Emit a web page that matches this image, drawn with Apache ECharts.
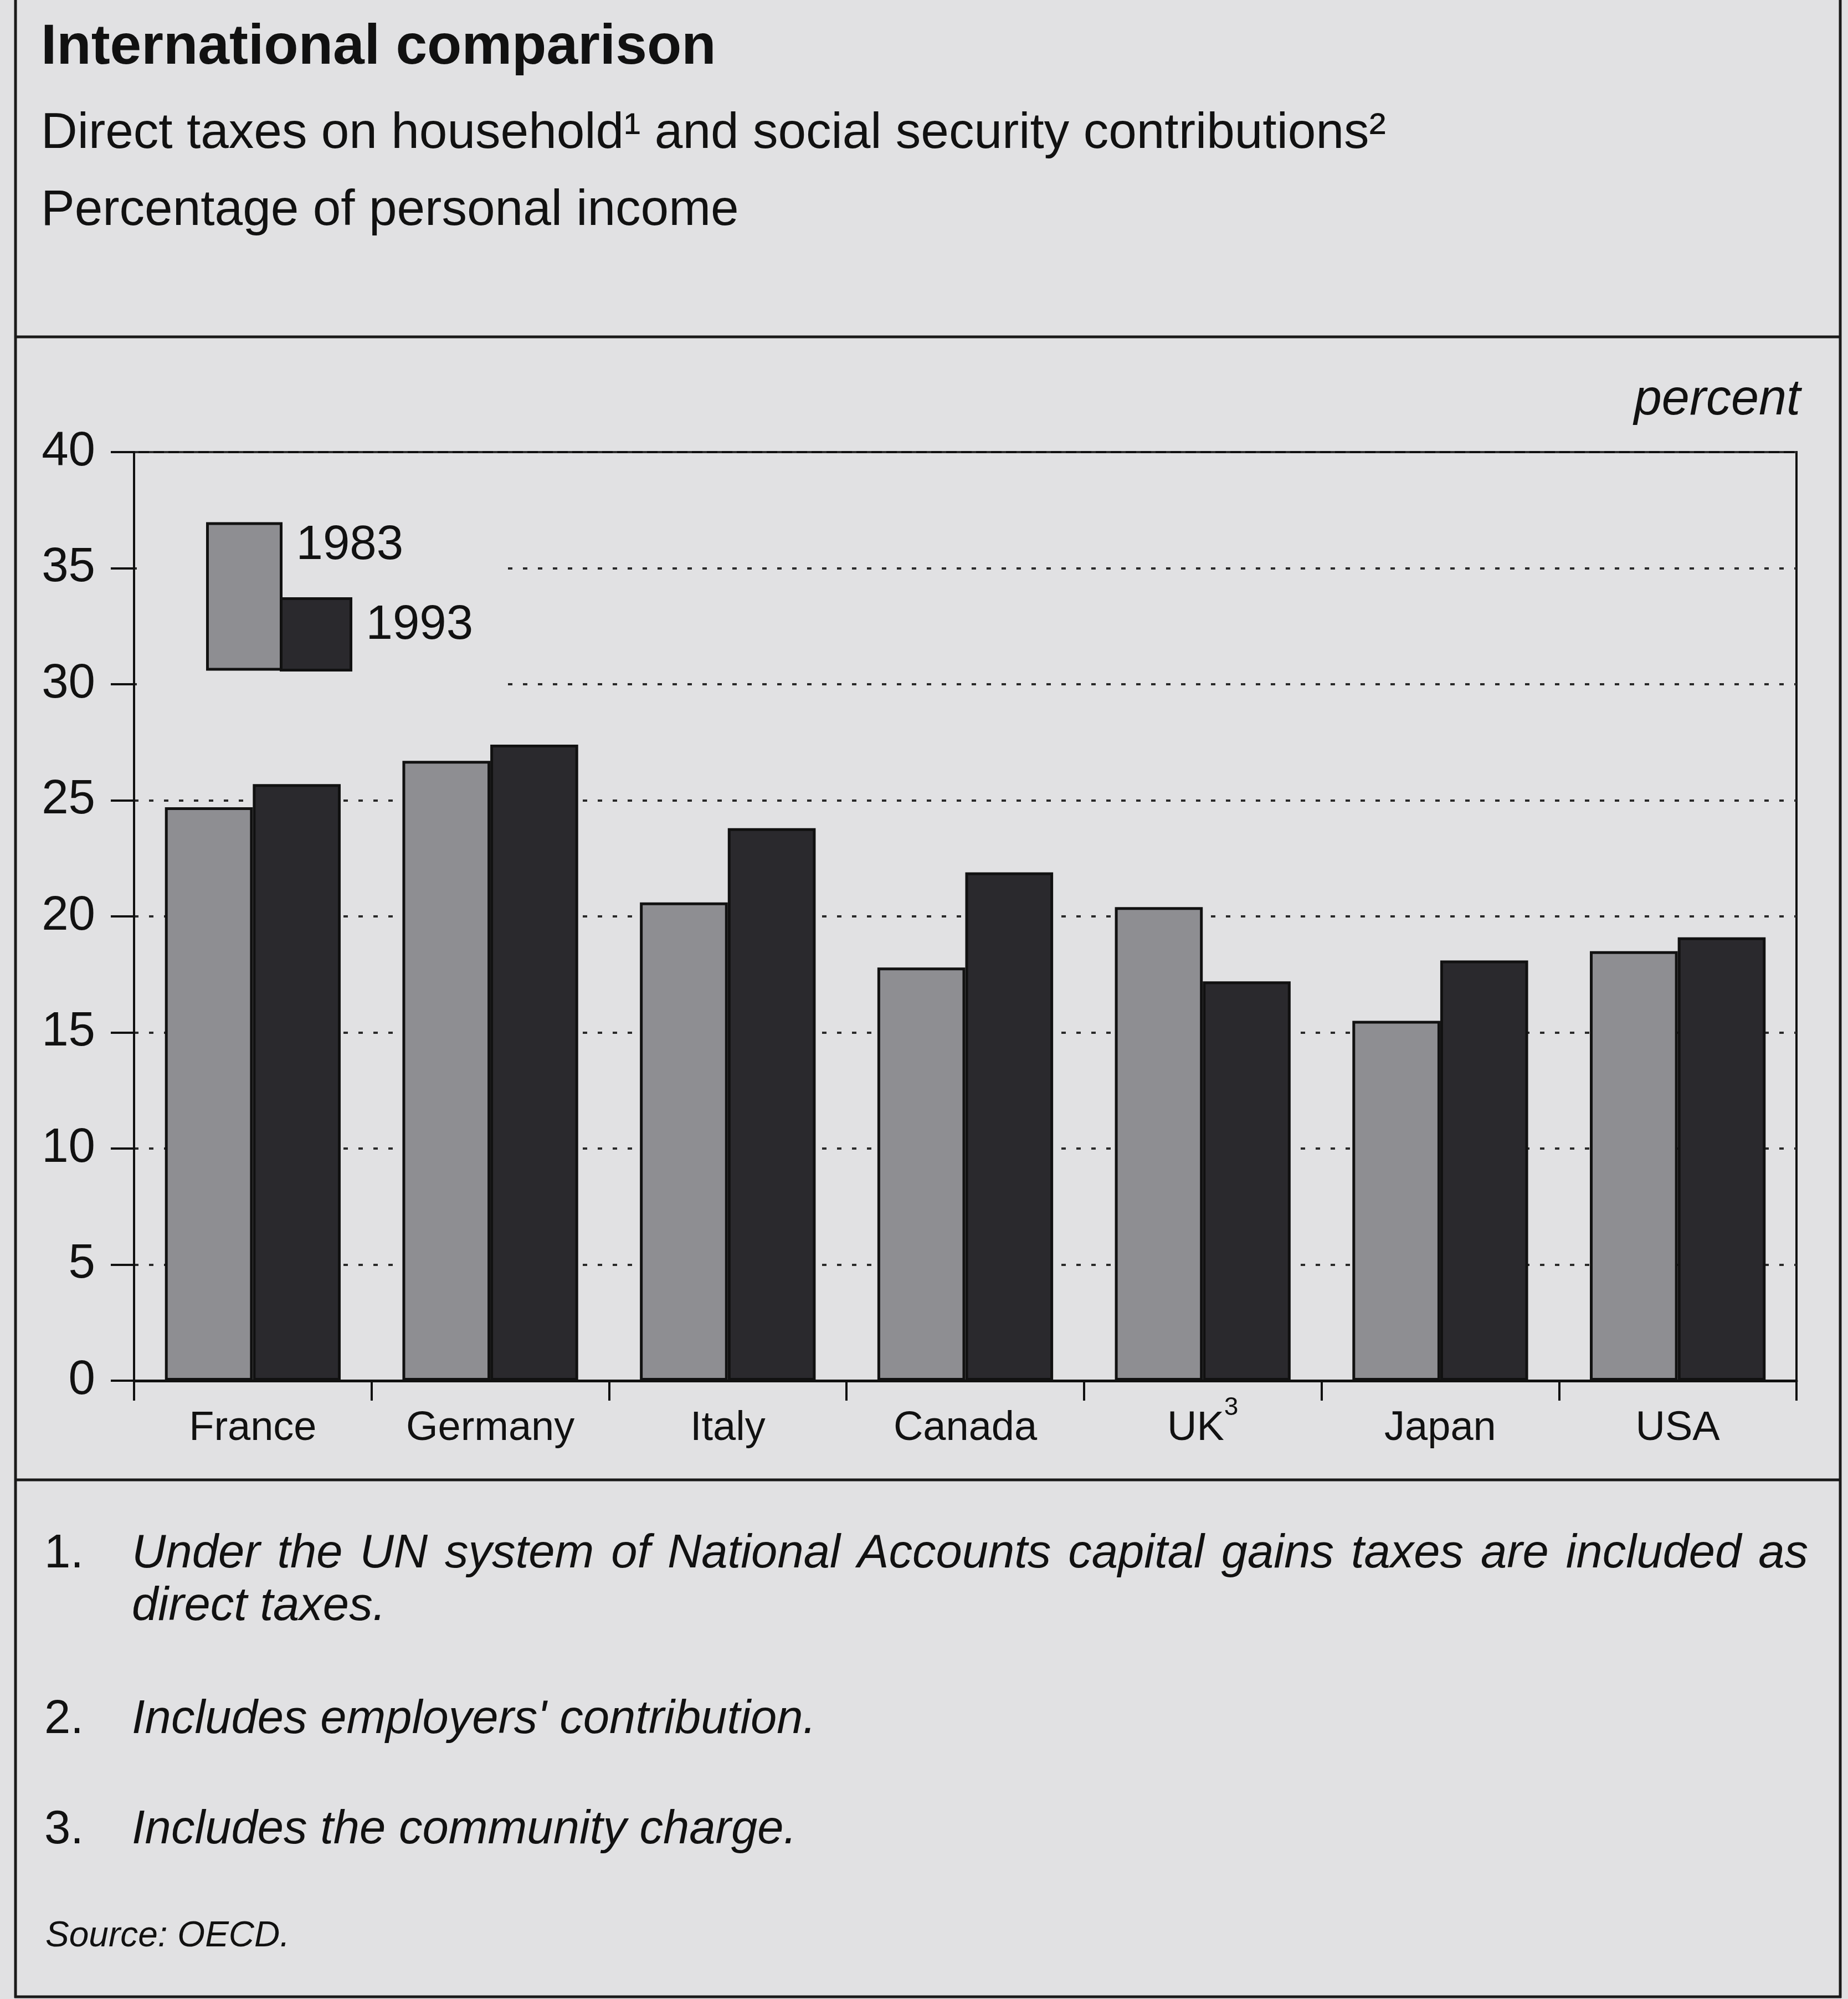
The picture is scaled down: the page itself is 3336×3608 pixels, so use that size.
<!DOCTYPE html>
<html>
<head>
<meta charset="utf-8">
<title>International comparison</title>
<script src="https://cdn.jsdelivr.net/npm/echarts@6/dist/echarts.min.js"></script>
<style>
  html, body { margin: 0; padding: 0; background: #e1e1e3; }
  #chart { width: 3336px; height: 3608px; }
</style>
</head>
<body>
<div id="chart"></div>
<script>
// Direct taxes on households and social security contributions, % of personal income
const countries = ['France', 'Germany', 'Italy', 'Canada', 'UK', 'Japan', 'USA'];
const values1983 = [24.7, 26.7, 20.6, 17.8, 20.4, 15.5, 18.5];
const values1993 = [25.7, 27.4, 23.8, 21.9, 17.2, 18.1, 19.1];
const seriesNames = ['1983', '1993'];
const countryNotes = { UK: '3' };
const yTicks = { min: 0, max: 40, step: 5 };

const titleText = 'International comparison';
const subtitleText = 'Direct taxes on household\u00B9 and social security contributions\u00B2';
const unitsText = 'Percentage of personal income';
const axisUnit = 'percent';
const footnote1 = ['Under the UN system of National Accounts capital gains taxes are included as', 'direct taxes.'];
const footnote2 = 'Includes employers\' contribution.';
const footnote3 = 'Includes the community charge.';
const sourceText = 'Source: OECD.';

const FONT = '"Liberation Sans", Arial, Helvetica, sans-serif';
const INK = '#111111';
const BG = '#e1e1e3';

// text is placed by its baseline; zrender centres on the em box, so shift up
const mid = (baseline, size) => baseline - 0.25 * size;

// Lay out one justified line of italic text as separate words
function justifiedLine(text, x0, x1, baseline, size) {
  const ctx = document.createElement('canvas').getContext('2d');
  ctx.font = 'italic ' + size + 'px ' + FONT;
  const words = text.split(' ');
  const widths = words.map(w => ctx.measureText(w).width);
  const total = widths.reduce((a, b) => a + b, 0);
  const gap = (x1 - x0 - total) / (words.length - 1);
  let x = x0;
  return words.map((w, i) => {
    const el = {
      type: 'text', x: x, y: mid(baseline, size), z: 5,
      style: { text: w, fontSize: size, fontStyle: 'italic', fontFamily: FONT, fill: INK, verticalAlign: 'middle' }
    };
    x += widths[i] + gap;
    return el;
  });
}

function txt(text, x, baseline, size, opts) {
  return {
    type: 'text', x: x, y: mid(baseline, size), z: 5,
    style: Object.assign({
      text: text, fontSize: size, fontFamily: FONT, fill: INK, verticalAlign: 'middle'
    }, opts || {})
  };
}

function hline(x1, x2, y, w) {
  return { type: 'line', z: 5, shape: { x1: x1, y1: y, x2: x2, y2: y }, style: { stroke: '#1a1a1a', lineWidth: w } };
}
function vline(x, y1, y2, w) {
  return { type: 'line', z: 5, shape: { x1: x, y1: y1, x2: x, y2: y2 }, style: { stroke: '#1a1a1a', lineWidth: w } };
}

const graphics = [
  // panel frame and dividers
  vline(28, 0, 3606, 5),
  vline(3322, 0, 3606, 5),
  hline(26, 3324, 3604, 5),
  hline(26, 3324, 608, 5),
  hline(26, 3324, 2671, 5),
  // header
  txt(titleText, 74, 112, 102, { fontWeight: 'bold' }),
  txt(subtitleText, 74, 265, 91),
  txt(unitsText, 74, 404, 91),
  txt(axisUnit, 3250, 745, 90, { fontStyle: 'italic', align: 'right' }),
  // clear the grid lines behind the legend
  { type: 'rect', z: 1, shape: { x: 247, y: 995, width: 658, height: 262 }, style: { fill: BG } },
  // footnotes
  txt('1.', 80, 2827, 85),
  ...justifiedLine(footnote1[0], 238, 3264, 2827, 85),
  txt(footnote1[1], 238, 2922, 85, { fontStyle: 'italic' }),
  txt('2.', 80, 3126, 85),
  txt(footnote2, 238, 3126, 85, { fontStyle: 'italic' }),
  txt('3.', 80, 3325, 85),
  txt(footnote3, 238, 3325, 85, { fontStyle: 'italic' }),
  txt(sourceText, 82, 3511, 64, { fontStyle: 'italic' })
];

const chart = echarts.init(document.getElementById('chart'), null, { renderer: 'canvas', width: 3336, height: 3608 });

const legendBase = {
  orient: 'horizontal', padding: 0, icon: 'rect', selectedMode: false,
  itemStyle: { borderColor: INK, borderWidth: 5 }
};

chart.setOption({
  backgroundColor: BG,
  animation: false,
  textStyle: { fontFamily: FONT },
  graphic: { elements: graphics },
  legend: [
    // tall key: label sits level with the top of the swatch
    Object.assign({}, legendBase, {
      data: [seriesNames[0]], left: 372, top: 940, itemWidth: 133, itemHeight: 263,
      formatter: '{name}\n\n',
      textStyle: { fontSize: 87, color: INK, fontFamily: FONT, lineHeight: 91, padding: [0, 0, 0, 22] }
    }),
    Object.assign({}, legendBase, {
      data: [seriesNames[1]], left: 505, top: 1078, itemWidth: 126, itemHeight: 129,
      formatter: '{name}\n',
      textStyle: { fontSize: 87, color: INK, fontFamily: FONT, lineHeight: 31, padding: [0, 0, 0, 22] }
    })
  ],
  grid: {
    left: 242, right: 93, top: 816, bottom: 1116,
    show: true, borderColor: INK, borderWidth: 4, backgroundColor: 'transparent'
  },
  xAxis: {
    type: 'category',
    data: countries,
    axisLine: { lineStyle: { color: INK, width: 5 } },
    axisTick: { show: true, length: 36, lineStyle: { color: INK, width: 4 } },
    axisLabel: {
      margin: 26,
      color: INK,
      formatter: v => countryNotes[v] ? '{n|' + v + '}{s|' + countryNotes[v] + '}' : '{n|' + v + '}',
      rich: {
        n: { fontSize: 74, lineHeight: 122, color: INK, fontFamily: FONT },
        s: { fontSize: 46, lineHeight: 46, padding: [0, 0, 76, 0], color: INK, fontFamily: FONT }
      }
    },
    splitLine: { show: false }
  },
  yAxis: {
    type: 'value',
    min: yTicks.min, max: yTicks.max, interval: yTicks.step,
    axisLine: { show: true, lineStyle: { color: INK, width: 4 } },
    axisTick: { show: true, length: 42, lineStyle: { color: INK, width: 4 } },
    axisLabel: { fontSize: 87, color: INK, margin: 70, fontFamily: FONT },
    splitLine: { show: true, lineStyle: { color: '#2a2a2a', width: 4, type: [8, 19] } }
  },
  series: [
    {
      name: seriesNames[0], type: 'bar', data: values1983,
      barGap: '0%', barCategoryGap: '26%',
      itemStyle: { color: '#8e8e92', borderColor: INK, borderWidth: 5 }
    },
    {
      name: seriesNames[1], type: 'bar', data: values1993,
      barGap: '0%', barCategoryGap: '26%',
      itemStyle: { color: '#2a292d', borderColor: INK, borderWidth: 5 }
    }
  ]
});
</script>
</body>
</html>
